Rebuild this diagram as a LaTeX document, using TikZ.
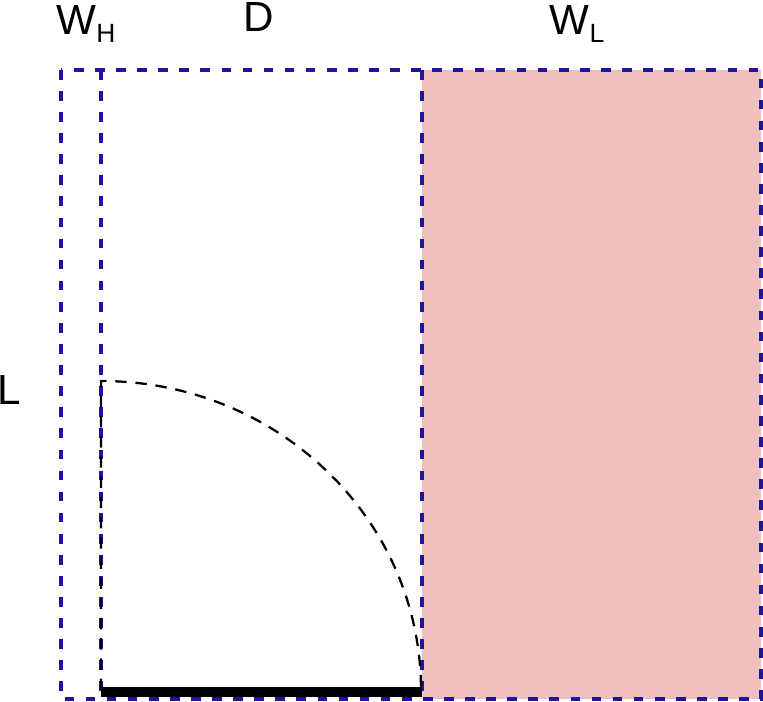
\documentclass[tikz,border=0pt]{standalone}
\usepackage{fontspec}
\setmainfont{Liberation Sans}
\usetikzlibrary{positioning}
\definecolor{boxblue}{RGB}{30,20,160}
\definecolor{wlpink}{RGB}{240,192,192}
\tikzset{
  region/.style={draw=boxblue, line width=1.8pt, dash pattern=on 5.5pt off 6.5pt},
  sweep/.style={draw=black, line width=1.3pt, dash pattern=on 6.5pt off 5pt},
  lbl/.style={inner sep=0, font=\fontsize{24}{28}\selectfont}
}
\newcommand{\sub}[2]{#1\raisebox{-0.35ex}{\fontsize{15}{18}\selectfont #2}}

\begin{document}
\begin{tikzpicture}[x=0.02cm, y=-0.02cm]
  \useasboundingbox (0,0) rectangle (763,702);

  % Regions
  \fill[wlpink] (422,70) rectangle (761,699);
  \draw[region] (61,70) rectangle (761,699);
  \draw[region] (101,70) -- (101,699);
  \draw[region] (422,70) -- (422,699);

  % Door sweep
  \coordinate (hinge) at (101,690);
  \coordinate (top) at (101,381);
  \draw[sweep] (hinge) -- (top) arc[start angle=90, end angle=0, x radius=320, y radius=-309];

  % Door leaf
  \draw[line width=5.6pt] (101,692) -- (422,692);

  % Labels
  \node[lbl] (wh) at (86,24) {\sub{W}{H}};
  \node[lbl] (d)  at (259,17) {D};
  \node[lbl] (wl) at (577,24) {\sub{W}{L}};
  \node[lbl] (l)  at (9,390) {L};
\end{tikzpicture}
\end{document}
